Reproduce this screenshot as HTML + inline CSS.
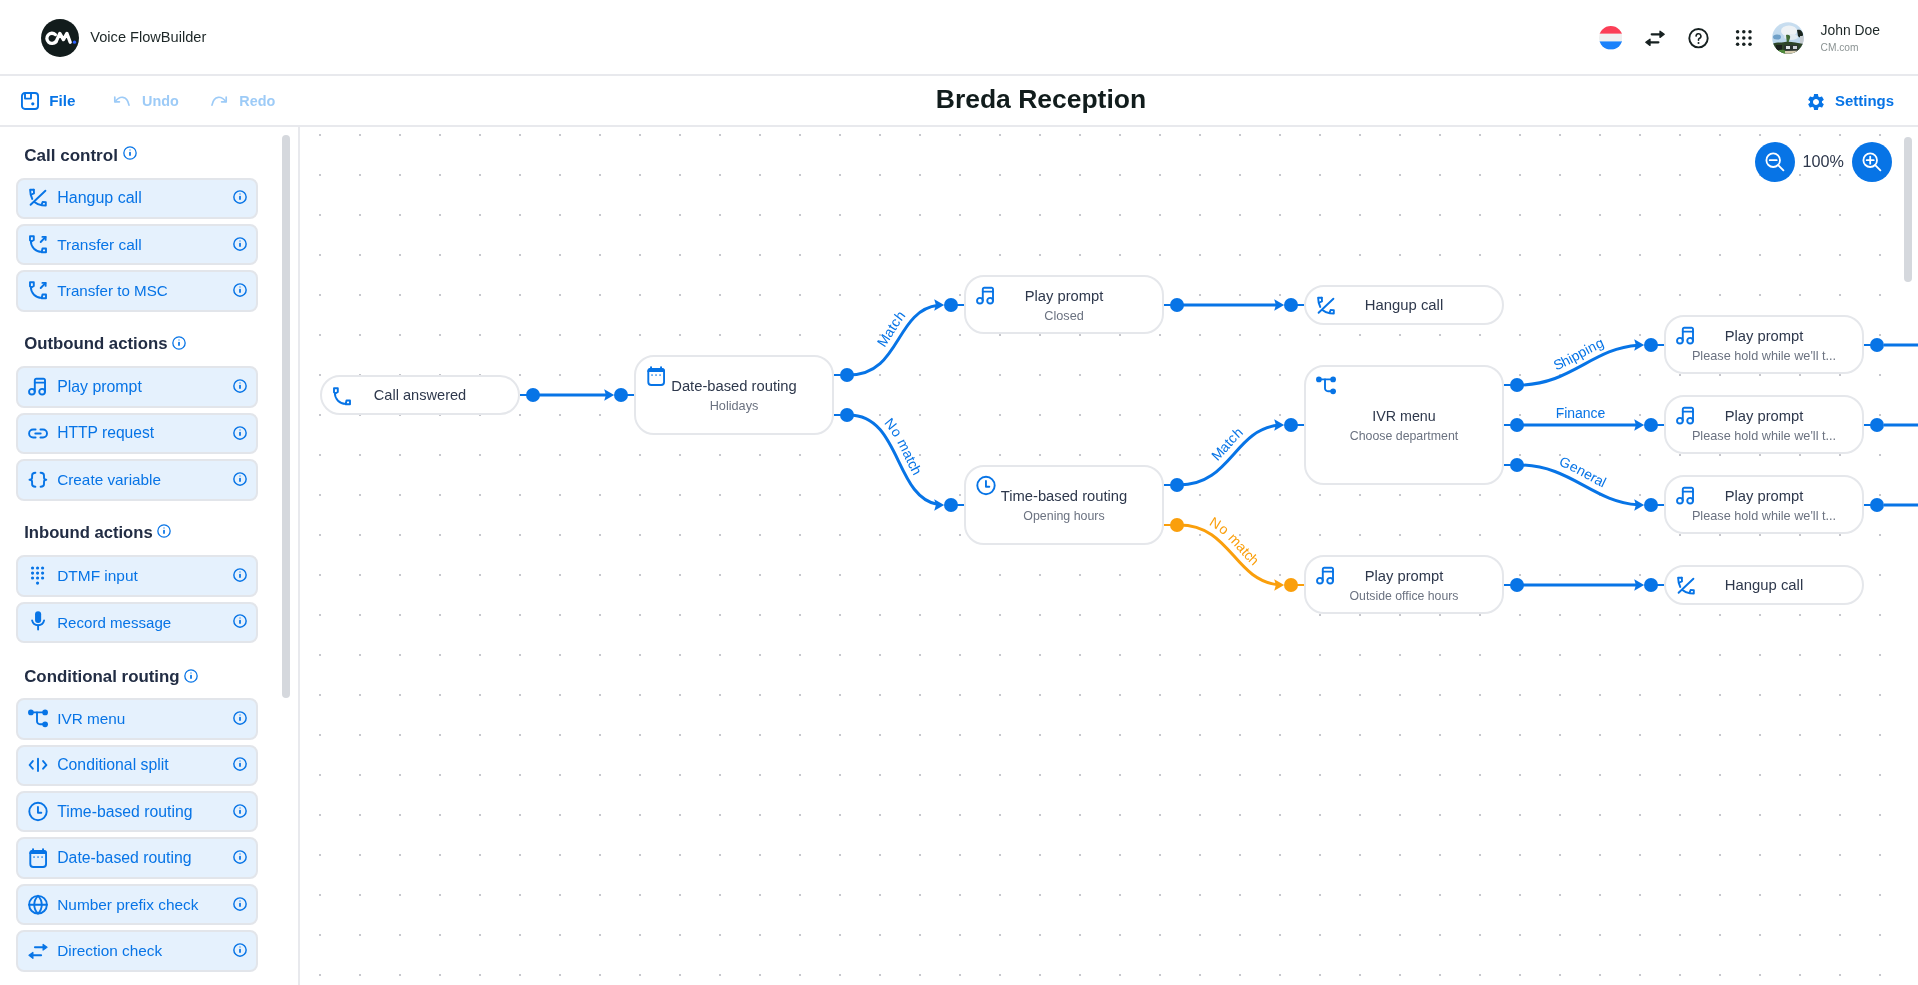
<!DOCTYPE html><html><head><meta charset="utf-8"><style>
html,body{margin:0;padding:0;width:1918px;height:985px;overflow:hidden;background:#fff;font-family:"Liberation Sans", sans-serif;}
#root{will-change:transform;position:relative;width:1918px;height:985px;overflow:hidden;}
.item{position:absolute;left:16px;width:242px;height:41.4px;box-sizing:border-box;background:#e5f1fd;border:2px solid #e2e5ea;border-radius:8px;}
.node{position:absolute;box-sizing:border-box;background:#fff;border:2px solid #e5e7eb;border-radius:20px;}
</style></head><body><div id="root">
<svg style="position:absolute;left:0;top:0" width="1918" height="985"><defs><pattern id="dots" x="-1" y="14" width="40" height="40" patternUnits="userSpaceOnUse"><rect x="0" y="0" width="2" height="2" fill="#c6c7cd"/></pattern></defs><rect x="300" y="127" width="1618" height="858" fill="url(#dots)"/></svg>
<div style="position:absolute;left:0;top:74px;width:1918px;height:2px;background:#e8e9ed"></div>
<div style="position:absolute;left:0;top:125px;width:1918px;height:2px;background:#e8e9ed"></div>
<div style="position:absolute;left:298px;top:127px;width:2px;height:858px;background:#e8e9ed"></div>
<div style="position:absolute;left:41px;top:19px;width:38px;height:38px;border-radius:50%;background:#121c1c"></div>
<svg style="position:absolute;left:0;top:0" width="90" height="70" fill="none" stroke="#fff" stroke-width="3.3" stroke-linecap="round" stroke-linejoin="round"><path d="M55.4,34.6 A5.1 5.1 0 1 0 55.9,41.6"/><path d="M56,41.9 L59.8,33.4 L63.4,39.6 L66.9,33.4 L70.2,42.3"/><circle cx="74.5" cy="42.2" r="1.65" fill="#2a5efc" stroke="none"/></svg>
<div style="position:absolute;left:90.3px;top:29.54px;font-size:14.6px;line-height:14.6px;font-weight:400;color:#1c2626;white-space:nowrap;">Voice FlowBuilder</div>
<svg style="position:absolute;left:1598.6px;top:26.2px" width="23.6" height="23.6" viewBox="0 0 23.6 23.6"><defs><clipPath id="fc"><circle cx="11.8" cy="11.8" r="11.8"/></clipPath></defs><g clip-path="url(#fc)"><rect x="0" y="0" width="24" height="7.8" fill="#fb3f57"/><rect x="0" y="7.8" width="24" height="7.6" fill="#eff0f0"/><rect x="0" y="15.4" width="24" height="8.3" fill="#1b82fb"/></g></svg>
<svg style="position:absolute;left:1642.5px;top:26.5px" width="24" height="23" viewBox="-12 -11.5 24 23" fill="#172121" stroke="#172121" stroke-linecap="round" stroke-linejoin="round"><path d="M-3.3,-4.2 H5.2" stroke-width="2.2"/><path d="M5,-7.3 L9.2,-4.2 L5,-1.1 Z" stroke-width="1.3"/><path d="M3.4,3.8 H-5.2" stroke-width="2.2"/><path d="M-5,0.7 L-9.2,3.8 L-5,6.9 Z" stroke-width="1.3"/></svg>
<svg style="position:absolute;left:1688px;top:28px" width="21" height="21" viewBox="0 0 21 21"><circle cx="10.5" cy="10.2" r="9.2" fill="none" stroke="#172121" stroke-width="1.9"/><path d="M8.1 8.1a2.4 2.4 0 1 1 3.4 2.2c-.7 .35 -1 .8 -1 1.5v.4" fill="none" stroke="#172121" stroke-width="1.6" stroke-linecap="round"/><circle cx="10.5" cy="14.9" r="1" fill="#172121"/></svg>
<svg style="position:absolute;left:0;top:0" width="1918" height="60"><circle cx="1737.6" cy="31.8" r="1.75" fill="#172121"/><circle cx="1737.6" cy="38.0" r="1.75" fill="#172121"/><circle cx="1737.6" cy="44.2" r="1.75" fill="#172121"/><circle cx="1743.8" cy="31.8" r="1.75" fill="#172121"/><circle cx="1743.8" cy="38.0" r="1.75" fill="#172121"/><circle cx="1743.8" cy="44.2" r="1.75" fill="#172121"/><circle cx="1750.0" cy="31.8" r="1.75" fill="#172121"/><circle cx="1750.0" cy="38.0" r="1.75" fill="#172121"/><circle cx="1750.0" cy="44.2" r="1.75" fill="#172121"/></svg>
<svg style="position:absolute;left:1771.5px;top:22px" width="32" height="32" viewBox="0 0 32 32"><defs><clipPath id="av"><circle cx="16" cy="16" r="15.8"/></clipPath><linearGradient id="sky" x1="0" y1="0" x2="0" y2="1"><stop offset="0" stop-color="#c9def0"/><stop offset="1" stop-color="#b4d3ea"/></linearGradient></defs><g clip-path="url(#av)"><rect x="0" y="0" width="32" height="32" fill="url(#sky)"/><ellipse cx="17" cy="9" rx="8" ry="5.5" fill="#eef2f5"/><ellipse cx="19" cy="15" rx="7" ry="3" fill="#e2ebf1"/><ellipse cx="5" cy="15" rx="4" ry="2.5" fill="#4d88b8" opacity="0.7"/><path d="M25,8 C28,7 31,9 31,13 C30,16 27,16 26,14 Z" fill="#1b261f"/><rect x="28" y="14" width="4" height="10" fill="#c6ccd2"/><path d="M14,13 C16,12 19,13 18,16 L16,22 L15,22 Z" fill="#3f6b35"/><path d="M0,22 C4,20 9,21 13,20 C18,19 24,21 32,22 L32,32 L0,32 Z" fill="#2d4428"/><rect x="4" y="23" width="6" height="6" fill="#1a1f1c"/><rect x="12" y="23" width="14" height="7" fill="#2a3430"/><rect x="14" y="24" width="4" height="3" fill="#dfe4e6"/><rect x="21" y="24" width="4" height="3" fill="#cdd4d8"/><path d="M5,29 C8,27 12,28 14,29 L14,32 L5,32 Z" fill="#4f8a3a"/><path d="M13,29 L32,28.5 L32,32 L13,32 Z" fill="#d6cbb0"/></g></svg>
<div style="position:absolute;left:1820.6px;top:23.63px;font-size:13.9px;line-height:13.9px;font-weight:400;color:#1c2626;white-space:nowrap;">John Doe</div>
<div style="position:absolute;left:1820.6px;top:43.36px;font-size:10.2px;line-height:10.2px;font-weight:400;color:#8b9393;white-space:nowrap;">CM.com</div>
<svg style="position:absolute;left:21px;top:92px" width="18" height="18" viewBox="0 0 18 18" fill="none" stroke="#0774e6" stroke-width="1.9" stroke-linejoin="round"><rect x="0.95" y="0.95" width="16.1" height="16.1" rx="3"/><path d="M4 1v5.6h6V1"/><circle cx="11.8" cy="11.8" r="1.6" fill="#0774e6" stroke="none"/></svg>
<div style="position:absolute;left:49.2px;top:93.43px;font-size:15.2px;line-height:15.2px;font-weight:700;color:#0774e6;white-space:nowrap;">File</div>
<svg style="position:absolute;left:113px;top:95px" width="18" height="12" viewBox="0 0 18 12" fill="none" stroke="#9dcbf7" stroke-width="1.7" stroke-linecap="round" stroke-linejoin="round"><path d="M1.8 2.2v4.6h4.6"/><path d="M2.2 6.6c2-2.8 4.8-4.6 7.6-4.3c3 .3 5.2 2.6 6.2 7.8"/></svg>
<div style="position:absolute;left:142px;top:94.11px;font-size:14.4px;line-height:14.4px;font-weight:700;color:#9dcbf7;white-space:nowrap;">Undo</div>
<svg style="position:absolute;left:210px;top:95px" width="18" height="12" viewBox="0 0 18 12" fill="none" stroke="#9dcbf7" stroke-width="1.7" stroke-linecap="round" stroke-linejoin="round"><path d="M16.2 2.2v4.6h-4.6"/><path d="M15.8 6.6c-2-2.8 -4.8-4.6 -7.6-4.3c-3 .3 -5.2 2.6 -6.2 7.8"/></svg>
<div style="position:absolute;left:239.3px;top:94.11px;font-size:14.4px;line-height:14.4px;font-weight:700;color:#9dcbf7;white-space:nowrap;">Redo</div>
<div style="position:absolute;left:935.8px;top:86.16px;font-size:26.5px;line-height:26.5px;font-weight:700;color:#111c1c;white-space:nowrap;letter-spacing:-0.02px;">Breda Reception</div>
<svg style="position:absolute;left:1806px;top:92px" width="20" height="20" viewBox="0 0 24 24"><path fill="#0774e6" d="M19.14 12.94c.04-.3.06-.61.06-.94 0-.32-.02-.64-.07-.94l2.03-1.58c.18-.14.23-.41.12-.61l-1.92-3.32c-.12-.22-.37-.29-.59-.22l-2.39.96c-.5-.38-1.03-.7-1.62-.94l-.36-2.54c-.04-.24-.24-.41-.48-.41h-3.84c-.24 0-.43.17-.47.41l-.36 2.54c-.59.24-1.13.57-1.62.94l-2.39-.96c-.22-.08-.47 0-.59.22L2.74 8.87c-.12.21-.08.47.12.61l2.03 1.58c-.05.3-.09.63-.09.94s.02.64.07.94l-2.03 1.58c-.18.14-.23.41-.12.61l1.92 3.32c.12.22.37.29.59.22l2.39-.96c.5.38 1.03.7 1.62.94l.36 2.54c.05.24.24.41.48.41h3.84c.24 0 .44-.17.47-.41l.36-2.54c.59-.24 1.13-.56 1.62-.94l2.39.96c.22.08.47 0 .59-.22l1.92-3.32c.12-.22.07-.47-.12-.61l-2.01-1.58zM12 15.6c-1.98 0-3.6-1.62-3.6-3.6s1.62-3.6 3.6-3.6 3.6 1.62 3.6 3.6-1.62 3.6-3.6 3.6z"/></svg>
<div style="position:absolute;left:1835.1px;top:94.34px;font-size:14.95px;line-height:14.95px;font-weight:700;color:#0774e6;white-space:nowrap;">Settings</div>
<div style="position:absolute;left:282px;top:135px;width:8px;height:563px;border-radius:4px;background:#d5d8dd"></div>
<div style="position:absolute;left:24.2px;top:146.56px;font-size:17.05px;line-height:17.05px;font-weight:700;color:#222d44;white-space:nowrap;">Call control</div>
<svg style="position:absolute;left:121.85px;top:145.3px" width="16" height="16" viewBox="-8 -8 16 16"><circle cx="0" cy="0" r="6.15" fill="none" stroke="#0774e6" stroke-width="1.3"/><circle cx="0" cy="-3.1" r="0.75" fill="#0774e6" opacity="0.75"/><path d="M0,-0.5 V2.1" stroke="#0774e6" stroke-width="1.75" stroke-linecap="round"/></svg>
<div class="item" style="top:177.50px"></div>
<svg style="position:absolute;left:25.9px;top:186.2px;overflow:visible" width="24" height="24" viewBox="-12 -12 24 24" fill="none" stroke="#0774e6" stroke-width="1.9" stroke-linecap="round" stroke-linejoin="round"><path d="M-4.2,-8.3 L-7.9,-8.3 C-7.9,-5.2 -7.1,-1.9 -5.7,1" /><path d="M-4.2,-8.3 L-4,-4.7 L-6.6,-3.5"/><path d="M-7.4,6.8 L7.4,-7.3"/><path d="M-3.2,4.3 C-1.4,5.9 1,6.9 3.9,7.3 L7.8,7.5 L7.8,4.1 L4.6,4 L3.9,5.8"/></svg>
<div style="position:absolute;left:57.2px;top:189.85px;font-size:16.0px;line-height:16.0px;font-weight:400;color:#0774e6;white-space:nowrap;">Hangup call</div>
<svg style="position:absolute;left:232px;top:189.2px" width="16" height="16" viewBox="-8 -8 16 16"><circle cx="0" cy="0" r="6.15" fill="none" stroke="#0774e6" stroke-width="1.45"/><circle cx="0" cy="-3.1" r="0.75" fill="#0774e6" opacity="0.75"/><path d="M0,-0.5 V2.1" stroke="#0774e6" stroke-width="1.75" stroke-linecap="round"/></svg>
<div class="item" style="top:223.90px"></div>
<svg style="position:absolute;left:25.9px;top:232.6px;overflow:visible" width="24" height="24" viewBox="-12 -12 24 24" fill="none" stroke="#0774e6" stroke-width="1.9" stroke-linecap="round" stroke-linejoin="round"><path d="M-8,-8.7 H-4.2 V-5 L-6.2,-3.7 L-8,-4.8 Z"/><path d="M-7.2,-3.9 A10.9 10.9 0 0 0 3.6,6.9"/><path d="M3.6,7.3 L4.5,3.5 H8 V7.3 Z"/><path d="M2.7,-3 L7.6,-8.1"/><path d="M4.4,-8.1 H7.6 V-5.1"/></svg>
<div style="position:absolute;left:57.2px;top:236.69px;font-size:15.48px;line-height:15.48px;font-weight:400;color:#0774e6;white-space:nowrap;">Transfer call</div>
<svg style="position:absolute;left:232px;top:235.6px" width="16" height="16" viewBox="-8 -8 16 16"><circle cx="0" cy="0" r="6.15" fill="none" stroke="#0774e6" stroke-width="1.45"/><circle cx="0" cy="-3.1" r="0.75" fill="#0774e6" opacity="0.75"/><path d="M0,-0.5 V2.1" stroke="#0774e6" stroke-width="1.75" stroke-linecap="round"/></svg>
<div class="item" style="top:270.30px"></div>
<svg style="position:absolute;left:25.9px;top:279.0px;overflow:visible" width="24" height="24" viewBox="-12 -12 24 24" fill="none" stroke="#0774e6" stroke-width="1.9" stroke-linecap="round" stroke-linejoin="round"><path d="M-8,-8.7 H-4.2 V-5 L-6.2,-3.7 L-8,-4.8 Z"/><path d="M-7.2,-3.9 A10.9 10.9 0 0 0 3.6,6.9"/><path d="M3.6,7.3 L4.5,3.5 H8 V7.3 Z"/><path d="M2.7,-3 L7.6,-8.1"/><path d="M4.4,-8.1 H7.6 V-5.1"/></svg>
<div style="position:absolute;left:57.2px;top:283.37px;font-size:15.15px;line-height:15.15px;font-weight:400;color:#0774e6;white-space:nowrap;">Transfer to MSC</div>
<svg style="position:absolute;left:232px;top:282.0px" width="16" height="16" viewBox="-8 -8 16 16"><circle cx="0" cy="0" r="6.15" fill="none" stroke="#0774e6" stroke-width="1.45"/><circle cx="0" cy="-3.1" r="0.75" fill="#0774e6" opacity="0.75"/><path d="M0,-0.5 V2.1" stroke="#0774e6" stroke-width="1.75" stroke-linecap="round"/></svg>
<div style="position:absolute;left:24.2px;top:336.22px;font-size:16.75px;line-height:16.75px;font-weight:700;color:#222d44;white-space:nowrap;">Outbound actions</div>
<svg style="position:absolute;left:171.0px;top:334.7px" width="16" height="16" viewBox="-8 -8 16 16"><circle cx="0" cy="0" r="6.15" fill="none" stroke="#0774e6" stroke-width="1.3"/><circle cx="0" cy="-3.1" r="0.75" fill="#0774e6" opacity="0.75"/><path d="M0,-0.5 V2.1" stroke="#0774e6" stroke-width="1.75" stroke-linecap="round"/></svg>
<div class="item" style="top:366.40px"></div>
<svg style="position:absolute;left:25.9px;top:375.09999999999997px;overflow:visible" width="24" height="24" viewBox="-12 -12 24 24" fill="none" stroke="#0774e6" stroke-width="1.9" stroke-linecap="round" stroke-linejoin="round"><circle cx="-6.1" cy="4.7" r="2.85"/><circle cx="4.1" cy="4.7" r="2.85"/><path d="M-3.2,4.7 V-6.8 A1.5 1.5 0 0 1 -1.7,-8.3 H5.5 A1.5 1.5 0 0 1 7,-6.8 V4.7"/><path d="M-3.2,-4.4 H7"/></svg>
<div style="position:absolute;left:57.2px;top:378.87px;font-size:15.86px;line-height:15.86px;font-weight:400;color:#0774e6;white-space:nowrap;">Play prompt</div>
<svg style="position:absolute;left:232px;top:378.09999999999997px" width="16" height="16" viewBox="-8 -8 16 16"><circle cx="0" cy="0" r="6.15" fill="none" stroke="#0774e6" stroke-width="1.45"/><circle cx="0" cy="-3.1" r="0.75" fill="#0774e6" opacity="0.75"/><path d="M0,-0.5 V2.1" stroke="#0774e6" stroke-width="1.75" stroke-linecap="round"/></svg>
<div class="item" style="top:412.80px"></div>
<svg style="position:absolute;left:25.9px;top:421.49999999999994px;overflow:visible" width="24" height="24" viewBox="-12 -12 24 24" fill="none" stroke="#0774e6" stroke-width="1.9" stroke-linecap="round" stroke-linejoin="round"><path d="M-2.4,-4.5 H-4.9 A4 4 0 0 0 -4.9,3.5 H-2.4"/><path d="M2.45,-4.5 H5 A4 4 0 0 1 5,3.5 H2.45"/><path d="M-2.7,-0.5 H2.7"/></svg>
<div style="position:absolute;left:57.2px;top:425.46px;font-size:15.64px;line-height:15.64px;font-weight:400;color:#0774e6;white-space:nowrap;">HTTP request</div>
<svg style="position:absolute;left:232px;top:424.49999999999994px" width="16" height="16" viewBox="-8 -8 16 16"><circle cx="0" cy="0" r="6.15" fill="none" stroke="#0774e6" stroke-width="1.45"/><circle cx="0" cy="-3.1" r="0.75" fill="#0774e6" opacity="0.75"/><path d="M0,-0.5 V2.1" stroke="#0774e6" stroke-width="1.75" stroke-linecap="round"/></svg>
<div class="item" style="top:459.20px"></div>
<svg style="position:absolute;left:25.9px;top:467.9px;overflow:visible" width="24" height="24" viewBox="-12 -12 24 24" fill="none" stroke="#0774e6" stroke-width="1.9" stroke-linecap="round" stroke-linejoin="round"><path d="M-2.6,-7.3 C-4.6,-7.3 -5.9,-6.6 -5.9,-4.6 V-2.6 C-5.9,-1.1 -6.8,-0.3 -8.5,-0.3 C-6.8,-0.3 -5.9,0.5 -5.9,2 V4.3 C-5.9,6 -4.6,6.7 -2.6,6.7"/><path d="M2.6,-7.3 C4.6,-7.3 6,-6.6 6,-4.6 V-2.6 C6,-1.1 6.8,-0.3 8.3,-0.3 C6.8,-0.3 6,0.5 6,2 V4.3 C6,6 4.6,6.7 2.6,6.7"/></svg>
<div style="position:absolute;left:57.2px;top:472.13px;font-size:15.32px;line-height:15.32px;font-weight:400;color:#0774e6;white-space:nowrap;">Create variable</div>
<svg style="position:absolute;left:232px;top:470.9px" width="16" height="16" viewBox="-8 -8 16 16"><circle cx="0" cy="0" r="6.15" fill="none" stroke="#0774e6" stroke-width="1.45"/><circle cx="0" cy="-3.1" r="0.75" fill="#0774e6" opacity="0.75"/><path d="M0,-0.5 V2.1" stroke="#0774e6" stroke-width="1.75" stroke-linecap="round"/></svg>
<div style="position:absolute;left:24.2px;top:525.00px;font-size:16.65px;line-height:16.65px;font-weight:700;color:#222d44;white-space:nowrap;">Inbound actions</div>
<svg style="position:absolute;left:156.0px;top:523.3999999999999px" width="16" height="16" viewBox="-8 -8 16 16"><circle cx="0" cy="0" r="6.15" fill="none" stroke="#0774e6" stroke-width="1.3"/><circle cx="0" cy="-3.1" r="0.75" fill="#0774e6" opacity="0.75"/><path d="M0,-0.5 V2.1" stroke="#0774e6" stroke-width="1.75" stroke-linecap="round"/></svg>
<div class="item" style="top:555.30px"></div>
<svg style="position:absolute;left:25.9px;top:564.0px;overflow:visible" width="24" height="24" viewBox="-12 -12 24 24" fill="none" stroke="#0774e6" stroke-width="1.9" stroke-linecap="round" stroke-linejoin="round"><circle cx="-5.46" cy="-8" r="1.6" fill="#0774e6" stroke="none"/><circle cx="-5.46" cy="-2.9" r="1.6" fill="#0774e6" stroke="none"/><circle cx="-5.46" cy="2" r="1.6" fill="#0774e6" stroke="none"/><circle cx="-0.45" cy="-8" r="1.6" fill="#0774e6" stroke="none"/><circle cx="-0.45" cy="-2.9" r="1.6" fill="#0774e6" stroke="none"/><circle cx="-0.45" cy="2" r="1.6" fill="#0774e6" stroke="none"/><circle cx="4.58" cy="-8" r="1.6" fill="#0774e6" stroke="none"/><circle cx="4.58" cy="-2.9" r="1.6" fill="#0774e6" stroke="none"/><circle cx="4.58" cy="2" r="1.6" fill="#0774e6" stroke="none"/><circle cx="-0.45" cy="7.1" r="1.6" fill="#0774e6" stroke="none"/></svg>
<div style="position:absolute;left:57.2px;top:568.12px;font-size:15.45px;line-height:15.45px;font-weight:400;color:#0774e6;white-space:nowrap;">DTMF input</div>
<svg style="position:absolute;left:232px;top:567.0px" width="16" height="16" viewBox="-8 -8 16 16"><circle cx="0" cy="0" r="6.15" fill="none" stroke="#0774e6" stroke-width="1.45"/><circle cx="0" cy="-3.1" r="0.75" fill="#0774e6" opacity="0.75"/><path d="M0,-0.5 V2.1" stroke="#0774e6" stroke-width="1.75" stroke-linecap="round"/></svg>
<div class="item" style="top:601.70px"></div>
<svg style="position:absolute;left:25.9px;top:610.4px;overflow:visible" width="24" height="24" viewBox="-12 -12 24 24" fill="none" stroke="#0774e6" stroke-width="1.9" stroke-linecap="round" stroke-linejoin="round"><rect x="-2.95" y="-10.8" width="6.1" height="11.8" rx="3.05" fill="#0774e6" stroke="none"/><path d="M-5.9,-1.6 A6.15 6.15 0 0 0 6.1,-1.6"/><path d="M0.1,3.4 V7.5"/></svg>
<div style="position:absolute;left:57.2px;top:614.83px;font-size:15.08px;line-height:15.08px;font-weight:400;color:#0774e6;white-space:nowrap;">Record message</div>
<svg style="position:absolute;left:232px;top:613.4px" width="16" height="16" viewBox="-8 -8 16 16"><circle cx="0" cy="0" r="6.15" fill="none" stroke="#0774e6" stroke-width="1.45"/><circle cx="0" cy="-3.1" r="0.75" fill="#0774e6" opacity="0.75"/><path d="M0,-0.5 V2.1" stroke="#0774e6" stroke-width="1.75" stroke-linecap="round"/></svg>
<div style="position:absolute;left:24.2px;top:668.91px;font-size:16.88px;line-height:16.88px;font-weight:700;color:#222d44;white-space:nowrap;">Conditional routing</div>
<svg style="position:absolute;left:183.2px;top:667.5px" width="16" height="16" viewBox="-8 -8 16 16"><circle cx="0" cy="0" r="6.15" fill="none" stroke="#0774e6" stroke-width="1.3"/><circle cx="0" cy="-3.1" r="0.75" fill="#0774e6" opacity="0.75"/><path d="M0,-0.5 V2.1" stroke="#0774e6" stroke-width="1.75" stroke-linecap="round"/></svg>
<div class="item" style="top:698.20px"></div>
<svg style="position:absolute;left:25.9px;top:706.9000000000001px;overflow:visible" width="24" height="24" viewBox="-12 -12 24 24" fill="none" stroke="#0774e6" stroke-width="1.9" stroke-linecap="round" stroke-linejoin="round"><path d="M-7.1,-6.6 H7.1"/><path d="M-1,-6.6 V2.3 A3 3 0 0 0 2,5.3 H7.1"/><circle cx="-7.1" cy="-6.6" r="2.85" fill="#0774e6" stroke="none"/><circle cx="7.1" cy="-6.6" r="2.85" fill="#0774e6" stroke="none"/><circle cx="7.1" cy="5.3" r="2.85" fill="#0774e6" stroke="none"/></svg>
<div style="position:absolute;left:57.2px;top:711.14px;font-size:15.31px;line-height:15.31px;font-weight:400;color:#0774e6;white-space:nowrap;">IVR menu</div>
<svg style="position:absolute;left:232px;top:709.9000000000001px" width="16" height="16" viewBox="-8 -8 16 16"><circle cx="0" cy="0" r="6.15" fill="none" stroke="#0774e6" stroke-width="1.45"/><circle cx="0" cy="-3.1" r="0.75" fill="#0774e6" opacity="0.75"/><path d="M0,-0.5 V2.1" stroke="#0774e6" stroke-width="1.75" stroke-linecap="round"/></svg>
<div class="item" style="top:744.60px"></div>
<svg style="position:absolute;left:25.9px;top:753.3000000000001px;overflow:visible" width="24" height="24" viewBox="-12 -12 24 24" fill="none" stroke="#0774e6" stroke-width="1.9" stroke-linecap="round" stroke-linejoin="round"><path d="M-5.2,-3.9 L-8.4,0 L-5.2,3.7"/><path d="M5.1,-3.9 L8.4,0 L5.1,3.7"/><path d="M0,-6.4 V6.1"/></svg>
<div style="position:absolute;left:57.2px;top:757.13px;font-size:15.79px;line-height:15.79px;font-weight:400;color:#0774e6;white-space:nowrap;">Conditional split</div>
<svg style="position:absolute;left:232px;top:756.3000000000001px" width="16" height="16" viewBox="-8 -8 16 16"><circle cx="0" cy="0" r="6.15" fill="none" stroke="#0774e6" stroke-width="1.45"/><circle cx="0" cy="-3.1" r="0.75" fill="#0774e6" opacity="0.75"/><path d="M0,-0.5 V2.1" stroke="#0774e6" stroke-width="1.75" stroke-linecap="round"/></svg>
<div class="item" style="top:791.00px"></div>
<svg style="position:absolute;left:25.9px;top:799.7px;overflow:visible" width="24" height="24" viewBox="-12 -12 24 24" fill="none" stroke="#0774e6" stroke-width="1.9" stroke-linecap="round" stroke-linejoin="round"><circle cx="0" cy="-0.5" r="8.7"/><path d="M-0.05,-5 V0.7 H3.3"/></svg>
<div style="position:absolute;left:57.2px;top:803.54px;font-size:15.78px;line-height:15.78px;font-weight:400;color:#0774e6;white-space:nowrap;">Time-based routing</div>
<svg style="position:absolute;left:232px;top:802.7px" width="16" height="16" viewBox="-8 -8 16 16"><circle cx="0" cy="0" r="6.15" fill="none" stroke="#0774e6" stroke-width="1.45"/><circle cx="0" cy="-3.1" r="0.75" fill="#0774e6" opacity="0.75"/><path d="M0,-0.5 V2.1" stroke="#0774e6" stroke-width="1.75" stroke-linecap="round"/></svg>
<div class="item" style="top:837.40px"></div>
<svg style="position:absolute;left:25.9px;top:846.1000000000001px;overflow:visible" width="24" height="24" viewBox="-12 -12 24 24" fill="none" stroke="#0774e6" stroke-width="1.9" stroke-linecap="round" stroke-linejoin="round"><rect x="-7.7" y="-7.05" width="15.75" height="16" rx="3"/><path d="M-8.65,-4 V-5 A3 3 0 0 1 -5.65,-8 H6 A3 3 0 0 1 9,-5 V-4 Z" fill="#0774e6" stroke="none"/><path d="M-4.95,-8.9 V-7"/><path d="M5.05,-8.9 V-7"/><rect x="-4.8500000000000005" y="-1.8" width="1.8" height="1.8" fill="#0774e6" stroke="none" opacity="0.6"/><rect x="-0.85" y="-1.8" width="1.8" height="1.8" fill="#0774e6" stroke="none" opacity="0.6"/><rect x="3.1999999999999997" y="-1.8" width="1.8" height="1.8" fill="#0774e6" stroke="none" opacity="0.6"/></svg>
<div style="position:absolute;left:57.2px;top:849.91px;font-size:15.81px;line-height:15.81px;font-weight:400;color:#0774e6;white-space:nowrap;">Date-based routing</div>
<svg style="position:absolute;left:232px;top:849.1000000000001px" width="16" height="16" viewBox="-8 -8 16 16"><circle cx="0" cy="0" r="6.15" fill="none" stroke="#0774e6" stroke-width="1.45"/><circle cx="0" cy="-3.1" r="0.75" fill="#0774e6" opacity="0.75"/><path d="M0,-0.5 V2.1" stroke="#0774e6" stroke-width="1.75" stroke-linecap="round"/></svg>
<div class="item" style="top:883.80px"></div>
<svg style="position:absolute;left:25.9px;top:892.5000000000001px;overflow:visible" width="24" height="24" viewBox="-12 -12 24 24" fill="none" stroke="#0774e6" stroke-width="1.9" stroke-linecap="round" stroke-linejoin="round"><circle cx="0" cy="-0.3" r="8.85"/><path d="M-8.85,-0.3 H8.85"/><path d="M0,-9.15 A12.3 12.3 0 0 0 0,8.55 A12.3 12.3 0 0 0 0,-9.15"/></svg>
<div style="position:absolute;left:57.2px;top:896.64px;font-size:15.42px;line-height:15.42px;font-weight:400;color:#0774e6;white-space:nowrap;">Number prefix check</div>
<svg style="position:absolute;left:232px;top:895.5000000000001px" width="16" height="16" viewBox="-8 -8 16 16"><circle cx="0" cy="0" r="6.15" fill="none" stroke="#0774e6" stroke-width="1.45"/><circle cx="0" cy="-3.1" r="0.75" fill="#0774e6" opacity="0.75"/><path d="M0,-0.5 V2.1" stroke="#0774e6" stroke-width="1.75" stroke-linecap="round"/></svg>
<div class="item" style="top:930.20px"></div>
<svg style="position:absolute;left:25.9px;top:938.9000000000001px;overflow:visible" width="24" height="24" viewBox="-12 -12 24 24" fill="none" stroke="#0774e6" stroke-width="1.9" stroke-linecap="round" stroke-linejoin="round"><path d="M-3.1,-3.7 H5.5"/><path d="M5.1,-6.6 L9,-3.7 L5.1,-0.9 Z" fill="#0774e6" stroke-width="1.2"/><path d="M3.15,4.3 H-4.5"/><path d="M-5.1,1.4 L-9,4.3 L-5.1,7.4 Z" fill="#0774e6" stroke-width="1.2"/></svg>
<div style="position:absolute;left:57.2px;top:943.10px;font-size:15.35px;line-height:15.35px;font-weight:400;color:#0774e6;white-space:nowrap;">Direction check</div>
<svg style="position:absolute;left:232px;top:941.9000000000001px" width="16" height="16" viewBox="-8 -8 16 16"><circle cx="0" cy="0" r="6.15" fill="none" stroke="#0774e6" stroke-width="1.45"/><circle cx="0" cy="-3.1" r="0.75" fill="#0774e6" opacity="0.75"/><path d="M0,-0.5 V2.1" stroke="#0774e6" stroke-width="1.75" stroke-linecap="round"/></svg>
<div style="position:absolute;left:1904px;top:137px;width:8px;height:145px;border-radius:4px;background:#d5d8dd"></div>
<svg style="position:absolute;left:0;top:0;overflow:visible" width="1" height="1"><circle cx="1775" cy="162" r="20" fill="#0774e6"/><circle cx="1773.2" cy="160.2" r="6.8" fill="none" stroke="#fff" stroke-width="1.8"/><path d="M1778.2 165.2l5.2 5.2" stroke="#fff" stroke-width="1.8" stroke-linecap="round"/><path d="M1769.7 160.2h7" stroke="#fff" stroke-width="1.8" stroke-linecap="round"/></svg>
<svg style="position:absolute;left:0;top:0;overflow:visible" width="1" height="1"><circle cx="1872" cy="162" r="20" fill="#0774e6"/><circle cx="1870.2" cy="160.2" r="6.8" fill="none" stroke="#fff" stroke-width="1.8"/><path d="M1875.2 165.2l5.2 5.2" stroke="#fff" stroke-width="1.8" stroke-linecap="round"/><path d="M1866.7 160.2h7" stroke="#fff" stroke-width="1.8" stroke-linecap="round"/><path d="M1870.2 156.7v7" stroke="#fff" stroke-width="1.8" stroke-linecap="round"/></svg>
<div style="position:absolute;left:1802.6px;top:153.28px;font-size:16.2px;line-height:16.2px;font-weight:400;color:#2e384c;white-space:nowrap;">100%</div>
<svg style="position:absolute;left:0;top:0" width="1918" height="985"><defs><marker id="arrB" viewBox="0 0 12 12" markerWidth="12" markerHeight="12" refX="10.6" refY="6" markerUnits="userSpaceOnUse" orient="auto"><path d="M0.8,0.2 L10.8,6 L0.8,11.8 L2.5,6 Z" fill="#0774e6"/></marker><marker id="arrO" viewBox="0 0 12 12" markerWidth="12" markerHeight="12" refX="10.6" refY="6" markerUnits="userSpaceOnUse" orient="auto"><path d="M0.8,0.2 L10.8,6 L0.8,11.8 L2.5,6 Z" fill="#fa9f0c"/></marker></defs><path id="e1" d="M535,395 C589,395 564,395 614,395" fill="none" stroke="#0774e6" stroke-width="3" stroke-dasharray="73.00 400" marker-end="url(#arrB)"/><path id="e2" d="M849,375 C903,375 894,305 944,305" fill="none" stroke="#0774e6" stroke-width="3" stroke-dasharray="118.78 400" marker-end="url(#arrB)"/><text font-family='"Liberation Sans", sans-serif' font-size="14" fill="#0774e6" dy="-7"><textPath href="#e2" startOffset="68.66" text-anchor="middle">Match</textPath></text><path id="e3" d="M849,415 C903,415 894,505 944,505" fill="none" stroke="#0774e6" stroke-width="3" stroke-dasharray="133.41 400" marker-end="url(#arrB)"/><text font-family='"Liberation Sans", sans-serif' font-size="14" fill="#0774e6" dy="-7"><textPath href="#e3" startOffset="62.54" text-anchor="middle">No match</textPath></text><path id="e4" d="M1179,305 C1233,305 1234,305 1284,305" fill="none" stroke="#0774e6" stroke-width="3" stroke-dasharray="99.00 400" marker-end="url(#arrB)"/><path id="e5" d="M1179,485 C1233,485 1234,425 1284,425" fill="none" stroke="#0774e6" stroke-width="3" stroke-dasharray="119.59 400" marker-end="url(#arrB)"/><text font-family='"Liberation Sans", sans-serif' font-size="14" fill="#0774e6" dy="-7"><textPath href="#e5" startOffset="67.7" text-anchor="middle">Match</textPath></text><path id="e6" d="M1179,525 C1233,525 1234,585 1284,585" fill="none" stroke="#fa9f0c" stroke-width="3" stroke-dasharray="119.59 400" marker-end="url(#arrO)"/><text font-family='"Liberation Sans", sans-serif' font-size="14" fill="#fa9f0c" dy="-7"><textPath href="#e6" startOffset="56.6" text-anchor="middle">No match</textPath></text><path id="e7" d="M1519,385 C1573,385 1594,345 1644,345" fill="none" stroke="#0774e6" stroke-width="3" stroke-dasharray="126.90 400" marker-end="url(#arrB)"/><text font-family='"Liberation Sans", sans-serif' font-size="14" fill="#0774e6" dy="-7"><textPath href="#e7" startOffset="68.3" text-anchor="middle">Shipping</textPath></text><path id="e8" d="M1519,425 C1573,425 1594,425 1644,425" fill="none" stroke="#0774e6" stroke-width="3" stroke-dasharray="119.00 400" marker-end="url(#arrB)"/><text font-family='"Liberation Sans", sans-serif' font-size="14" fill="#0774e6" dy="-7"><textPath href="#e8" startOffset="61.5" text-anchor="middle">Finance</textPath></text><path id="e9" d="M1519,465 C1573,465 1594,505 1644,505" fill="none" stroke="#0774e6" stroke-width="3" stroke-dasharray="126.90 400" marker-end="url(#arrB)"/><text font-family='"Liberation Sans", sans-serif' font-size="14" fill="#0774e6" dy="-7"><textPath href="#e9" startOffset="62.07" text-anchor="middle">General</textPath></text><path id="e10" d="M1519,585 C1573,585 1594,585 1644,585" fill="none" stroke="#0774e6" stroke-width="3" stroke-dasharray="119.00 400" marker-end="url(#arrB)"/><path d="M1884,345 L1930,345" stroke="#0774e6" stroke-width="3"/><path d="M1884,425 L1930,425" stroke="#0774e6" stroke-width="3"/><path d="M1884,505 L1930,505" stroke="#0774e6" stroke-width="3"/><rect x="520" y="394" width="13" height="2" fill="#0774e6"/><circle cx="533" cy="395" r="7" fill="#0774e6"/><rect x="621" y="394" width="13" height="2" fill="#0774e6"/><circle cx="621" cy="395" r="7" fill="#0774e6"/><rect x="834" y="374" width="13" height="2" fill="#0774e6"/><circle cx="847" cy="375" r="7" fill="#0774e6"/><rect x="834" y="414" width="13" height="2" fill="#0774e6"/><circle cx="847" cy="415" r="7" fill="#0774e6"/><rect x="951" y="304" width="13" height="2" fill="#0774e6"/><circle cx="951" cy="305" r="7" fill="#0774e6"/><rect x="1164" y="304" width="13" height="2" fill="#0774e6"/><circle cx="1177" cy="305" r="7" fill="#0774e6"/><rect x="951" y="504" width="13" height="2" fill="#0774e6"/><circle cx="951" cy="505" r="7" fill="#0774e6"/><rect x="1164" y="484" width="13" height="2" fill="#0774e6"/><circle cx="1177" cy="485" r="7" fill="#0774e6"/><rect x="1164" y="524" width="13" height="2" fill="#fa9f0c"/><circle cx="1177" cy="525" r="7" fill="#fa9f0c"/><rect x="1291" y="304" width="13" height="2" fill="#0774e6"/><circle cx="1291" cy="305" r="7" fill="#0774e6"/><rect x="1291" y="424" width="13" height="2" fill="#0774e6"/><circle cx="1291" cy="425" r="7" fill="#0774e6"/><rect x="1504" y="384" width="13" height="2" fill="#0774e6"/><circle cx="1517" cy="385" r="7" fill="#0774e6"/><rect x="1504" y="424" width="13" height="2" fill="#0774e6"/><circle cx="1517" cy="425" r="7" fill="#0774e6"/><rect x="1504" y="464" width="13" height="2" fill="#0774e6"/><circle cx="1517" cy="465" r="7" fill="#0774e6"/><rect x="1291" y="584" width="13" height="2" fill="#fa9f0c"/><circle cx="1291" cy="585" r="7" fill="#fa9f0c"/><rect x="1504" y="584" width="13" height="2" fill="#0774e6"/><circle cx="1517" cy="585" r="7" fill="#0774e6"/><rect x="1651" y="344" width="13" height="2" fill="#0774e6"/><circle cx="1651" cy="345" r="7" fill="#0774e6"/><rect x="1651" y="424" width="13" height="2" fill="#0774e6"/><circle cx="1651" cy="425" r="7" fill="#0774e6"/><rect x="1651" y="504" width="13" height="2" fill="#0774e6"/><circle cx="1651" cy="505" r="7" fill="#0774e6"/><rect x="1864" y="344" width="13" height="2" fill="#0774e6"/><circle cx="1877" cy="345" r="7" fill="#0774e6"/><rect x="1864" y="424" width="13" height="2" fill="#0774e6"/><circle cx="1877" cy="425" r="7" fill="#0774e6"/><rect x="1864" y="504" width="13" height="2" fill="#0774e6"/><circle cx="1877" cy="505" r="7" fill="#0774e6"/><rect x="1651" y="584" width="13" height="2" fill="#0774e6"/><circle cx="1651" cy="585" r="7" fill="#0774e6"/></svg>
<div class="node" style="left:320px;top:375.0px;width:200px;height:40px;border-radius:20px"></div>
<svg style="position:absolute;left:330px;top:384.65px;overflow:visible" width="24" height="24" viewBox="-12 -12 24 24" fill="none" stroke="#0774e6" stroke-width="1.9" stroke-linecap="round" stroke-linejoin="round"><path d="M-8,-8.7 H-4.2 V-5 L-6.2,-3.7 L-8,-4.8 Z"/><path d="M-7.2,-3.9 A10.9 10.9 0 0 0 3.6,6.9"/><path d="M3.6,7.3 L4.5,3.5 H8 V7.3 Z"/></svg>
<div style="position:absolute;left:120px;width:600px;top:387.64px;text-align:center;font-size:14.6px;line-height:14.6px;font-weight:400;color:#2e384c;white-space:nowrap;">Call answered</div>
<div class="node" style="left:634px;top:355.0px;width:200px;height:80px;border-radius:20px"></div>
<svg style="position:absolute;left:644px;top:363.5px;overflow:visible" width="24" height="24" viewBox="-12 -12 24 24" fill="none" stroke="#0774e6" stroke-width="1.9" stroke-linecap="round" stroke-linejoin="round"><rect x="-7.7" y="-7.05" width="15.75" height="16" rx="3"/><path d="M-8.65,-4 V-5 A3 3 0 0 1 -5.65,-8 H6 A3 3 0 0 1 9,-5 V-4 Z" fill="#0774e6" stroke="none"/><path d="M-4.95,-8.9 V-7"/><path d="M5.05,-8.9 V-7"/><rect x="-4.8500000000000005" y="-1.8" width="1.8" height="1.8" fill="#0774e6" stroke="none" opacity="0.6"/><rect x="-0.85" y="-1.8" width="1.8" height="1.8" fill="#0774e6" stroke="none" opacity="0.6"/><rect x="3.1999999999999997" y="-1.8" width="1.8" height="1.8" fill="#0774e6" stroke="none" opacity="0.6"/></svg>
<div style="position:absolute;left:434px;width:600px;top:378.91px;text-align:center;font-size:14.75px;line-height:14.75px;font-weight:400;color:#2e384c;white-space:nowrap;">Date-based routing</div>
<div style="position:absolute;left:434px;width:600px;top:399.75px;text-align:center;font-size:12.7px;line-height:12.7px;font-weight:400;color:#6b7280;white-space:nowrap;">Holidays</div>
<div class="node" style="left:964px;top:275px;width:200px;height:59px;border-radius:20px"></div>
<svg style="position:absolute;left:974px;top:283.5px;overflow:visible" width="24" height="24" viewBox="-12 -12 24 24" fill="none" stroke="#0774e6" stroke-width="1.9" stroke-linecap="round" stroke-linejoin="round"><circle cx="-6.1" cy="4.7" r="2.85"/><circle cx="4.1" cy="4.7" r="2.85"/><path d="M-3.2,4.7 V-6.8 A1.5 1.5 0 0 1 -1.7,-8.3 H5.5 A1.5 1.5 0 0 1 7,-6.8 V4.7"/><path d="M-3.2,-4.4 H7"/></svg>
<div style="position:absolute;left:764px;width:600px;top:288.91px;text-align:center;font-size:14.75px;line-height:14.75px;font-weight:400;color:#2e384c;white-space:nowrap;">Play prompt</div>
<div style="position:absolute;left:764px;width:600px;top:309.75px;text-align:center;font-size:12.7px;line-height:12.7px;font-weight:400;color:#6b7280;white-space:nowrap;">Closed</div>
<div class="node" style="left:1304px;top:285.0px;width:200px;height:40px;border-radius:20px"></div>
<svg style="position:absolute;left:1314px;top:294.2px;overflow:visible" width="24" height="24" viewBox="-12 -12 24 24" fill="none" stroke="#0774e6" stroke-width="1.9" stroke-linecap="round" stroke-linejoin="round"><path d="M-4.2,-8.3 L-7.9,-8.3 C-7.9,-5.2 -7.1,-1.9 -5.7,1" /><path d="M-4.2,-8.3 L-4,-4.7 L-6.6,-3.5"/><path d="M-7.4,6.8 L7.4,-7.3"/><path d="M-3.2,4.3 C-1.4,5.9 1,6.9 3.9,7.3 L7.8,7.5 L7.8,4.1 L4.6,4 L3.9,5.8"/></svg>
<div style="position:absolute;left:1104px;width:600px;top:298.43px;text-align:center;font-size:14.85px;line-height:14.85px;font-weight:400;color:#2e384c;white-space:nowrap;">Hangup call</div>
<div class="node" style="left:964px;top:465.0px;width:200px;height:80px;border-radius:20px"></div>
<svg style="position:absolute;left:974px;top:473.5px;overflow:visible" width="24" height="24" viewBox="-12 -12 24 24" fill="none" stroke="#0774e6" stroke-width="1.9" stroke-linecap="round" stroke-linejoin="round"><circle cx="0" cy="-0.5" r="8.7"/><path d="M-0.05,-5 V0.7 H3.3"/></svg>
<div style="position:absolute;left:764px;width:600px;top:488.91px;text-align:center;font-size:14.75px;line-height:14.75px;font-weight:400;color:#2e384c;white-space:nowrap;">Time-based routing</div>
<div style="position:absolute;left:764px;width:600px;top:510.00px;text-align:center;font-size:12.4px;line-height:12.4px;font-weight:400;color:#6b7280;white-space:nowrap;">Opening hours</div>
<div class="node" style="left:1304px;top:365.0px;width:200px;height:120px;border-radius:20px"></div>
<svg style="position:absolute;left:1314px;top:373.5px;overflow:visible" width="24" height="24" viewBox="-12 -12 24 24" fill="none" stroke="#0774e6" stroke-width="1.9" stroke-linecap="round" stroke-linejoin="round"><path d="M-7.1,-6.6 H7.1"/><path d="M-1,-6.6 V2.3 A3 3 0 0 0 2,5.3 H7.1"/><circle cx="-7.1" cy="-6.6" r="2.85" fill="#0774e6" stroke="none"/><circle cx="7.1" cy="-6.6" r="2.85" fill="#0774e6" stroke="none"/><circle cx="7.1" cy="5.3" r="2.85" fill="#0774e6" stroke="none"/></svg>
<div style="position:absolute;left:1104px;width:600px;top:409.31px;text-align:center;font-size:14.28px;line-height:14.28px;font-weight:400;color:#2e384c;white-space:nowrap;">IVR menu</div>
<div style="position:absolute;left:1104px;width:600px;top:430.03px;text-align:center;font-size:12.36px;line-height:12.36px;font-weight:400;color:#6b7280;white-space:nowrap;">Choose department</div>
<div class="node" style="left:1304px;top:555px;width:200px;height:59px;border-radius:20px"></div>
<svg style="position:absolute;left:1314px;top:563.5px;overflow:visible" width="24" height="24" viewBox="-12 -12 24 24" fill="none" stroke="#0774e6" stroke-width="1.9" stroke-linecap="round" stroke-linejoin="round"><circle cx="-6.1" cy="4.7" r="2.85"/><circle cx="4.1" cy="4.7" r="2.85"/><path d="M-3.2,4.7 V-6.8 A1.5 1.5 0 0 1 -1.7,-8.3 H5.5 A1.5 1.5 0 0 1 7,-6.8 V4.7"/><path d="M-3.2,-4.4 H7"/></svg>
<div style="position:absolute;left:1104px;width:600px;top:568.91px;text-align:center;font-size:14.75px;line-height:14.75px;font-weight:400;color:#2e384c;white-space:nowrap;">Play prompt</div>
<div style="position:absolute;left:1104px;width:600px;top:590.10px;text-align:center;font-size:12.28px;line-height:12.28px;font-weight:400;color:#6b7280;white-space:nowrap;">Outside office hours</div>
<div class="node" style="left:1664px;top:315px;width:200px;height:59px;border-radius:20px"></div>
<svg style="position:absolute;left:1674px;top:323.5px;overflow:visible" width="24" height="24" viewBox="-12 -12 24 24" fill="none" stroke="#0774e6" stroke-width="1.9" stroke-linecap="round" stroke-linejoin="round"><circle cx="-6.1" cy="4.7" r="2.85"/><circle cx="4.1" cy="4.7" r="2.85"/><path d="M-3.2,4.7 V-6.8 A1.5 1.5 0 0 1 -1.7,-8.3 H5.5 A1.5 1.5 0 0 1 7,-6.8 V4.7"/><path d="M-3.2,-4.4 H7"/></svg>
<div style="position:absolute;left:1464px;width:600px;top:328.91px;text-align:center;font-size:14.75px;line-height:14.75px;font-weight:400;color:#2e384c;white-space:nowrap;">Play prompt</div>
<div style="position:absolute;left:1464px;width:600px;top:349.75px;text-align:center;font-size:12.7px;line-height:12.7px;font-weight:400;color:#6b7280;white-space:nowrap;">Please hold while we'll t...</div>
<div class="node" style="left:1664px;top:395px;width:200px;height:59px;border-radius:20px"></div>
<svg style="position:absolute;left:1674px;top:403.5px;overflow:visible" width="24" height="24" viewBox="-12 -12 24 24" fill="none" stroke="#0774e6" stroke-width="1.9" stroke-linecap="round" stroke-linejoin="round"><circle cx="-6.1" cy="4.7" r="2.85"/><circle cx="4.1" cy="4.7" r="2.85"/><path d="M-3.2,4.7 V-6.8 A1.5 1.5 0 0 1 -1.7,-8.3 H5.5 A1.5 1.5 0 0 1 7,-6.8 V4.7"/><path d="M-3.2,-4.4 H7"/></svg>
<div style="position:absolute;left:1464px;width:600px;top:408.91px;text-align:center;font-size:14.75px;line-height:14.75px;font-weight:400;color:#2e384c;white-space:nowrap;">Play prompt</div>
<div style="position:absolute;left:1464px;width:600px;top:429.75px;text-align:center;font-size:12.7px;line-height:12.7px;font-weight:400;color:#6b7280;white-space:nowrap;">Please hold while we'll t...</div>
<div class="node" style="left:1664px;top:475px;width:200px;height:59px;border-radius:20px"></div>
<svg style="position:absolute;left:1674px;top:483.5px;overflow:visible" width="24" height="24" viewBox="-12 -12 24 24" fill="none" stroke="#0774e6" stroke-width="1.9" stroke-linecap="round" stroke-linejoin="round"><circle cx="-6.1" cy="4.7" r="2.85"/><circle cx="4.1" cy="4.7" r="2.85"/><path d="M-3.2,4.7 V-6.8 A1.5 1.5 0 0 1 -1.7,-8.3 H5.5 A1.5 1.5 0 0 1 7,-6.8 V4.7"/><path d="M-3.2,-4.4 H7"/></svg>
<div style="position:absolute;left:1464px;width:600px;top:488.91px;text-align:center;font-size:14.75px;line-height:14.75px;font-weight:400;color:#2e384c;white-space:nowrap;">Play prompt</div>
<div style="position:absolute;left:1464px;width:600px;top:509.75px;text-align:center;font-size:12.7px;line-height:12.7px;font-weight:400;color:#6b7280;white-space:nowrap;">Please hold while we'll t...</div>
<div class="node" style="left:1664px;top:565.0px;width:200px;height:40px;border-radius:20px"></div>
<svg style="position:absolute;left:1674px;top:574.2px;overflow:visible" width="24" height="24" viewBox="-12 -12 24 24" fill="none" stroke="#0774e6" stroke-width="1.9" stroke-linecap="round" stroke-linejoin="round"><path d="M-4.2,-8.3 L-7.9,-8.3 C-7.9,-5.2 -7.1,-1.9 -5.7,1" /><path d="M-4.2,-8.3 L-4,-4.7 L-6.6,-3.5"/><path d="M-7.4,6.8 L7.4,-7.3"/><path d="M-3.2,4.3 C-1.4,5.9 1,6.9 3.9,7.3 L7.8,7.5 L7.8,4.1 L4.6,4 L3.9,5.8"/></svg>
<div style="position:absolute;left:1464px;width:600px;top:578.43px;text-align:center;font-size:14.85px;line-height:14.85px;font-weight:400;color:#2e384c;white-space:nowrap;">Hangup call</div>
</div></body></html>
